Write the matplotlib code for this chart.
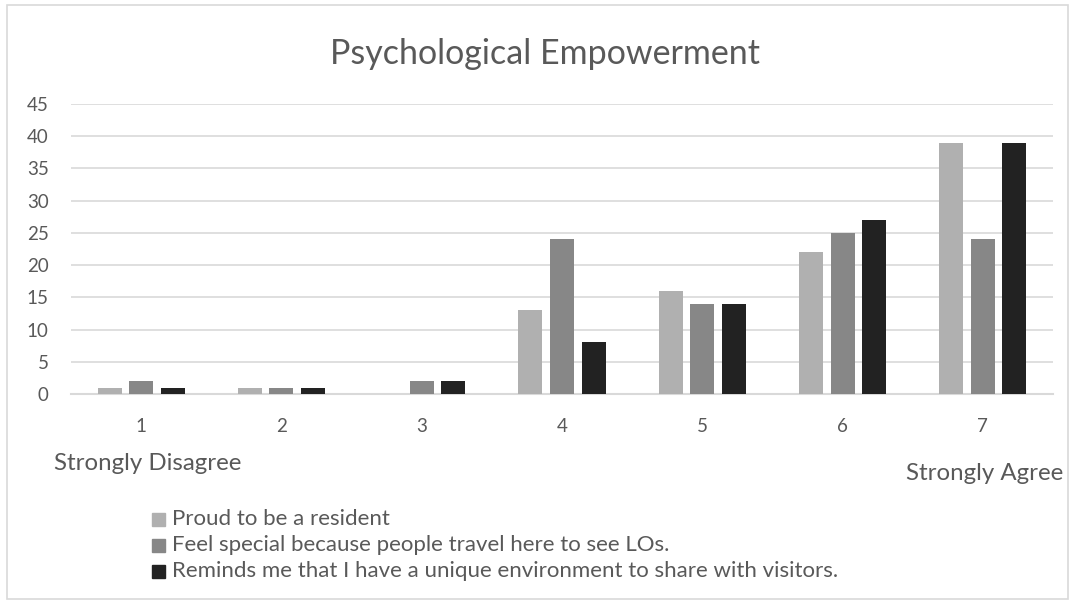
import numpy as np
import matplotlib
matplotlib.use("Agg")
import matplotlib.pyplot as plt
from matplotlib.patches import Rectangle

categories = ["1", "2", "3", "4", "5", "6", "7"]
series_names = [
    "Proud to be a resident",
    "Feel special because people travel here to see LOs.",
    "Reminds me that I have a unique environment to share with visitors.",
]
proud = [1, 1, 0, 13, 16, 22, 39]
special = [2, 1, 2, 24, 14, 25, 24]
reminds = [1, 1, 2, 8, 14, 27, 39]
y_ticks = [0, 5, 10, 15, 20, 25, 30, 35, 40, 45]

colors = ["#b0b0b0", "#878787", "#222222"]
text_color = "#595959"
grid_color = "#d9d9d9"

plt.rcParams["font.family"] = ["Lato", "DejaVu Sans"]

W, H = 1072, 605
fig = plt.figure(figsize=(W / 100, H / 100), dpi=100)
ax = fig.add_axes([71 / W, 1 - 394 / H, (1053 - 71) / W, (394 - 104) / H])

x = np.arange(len(categories))
bw = 0.171
off = 0.225
for i, vals in enumerate([proud, special, reminds]):
    ax.bar(x + (i - 1) * off, vals, width=bw, color=colors[i], label=series_names[i], zorder=3)

ax.set_xlim(-0.5, len(categories) - 0.5)
ax.set_ylim(0, 45)
ax.set_yticks(y_ticks)
ax.set_xticks(x)
ax.set_xticklabels(categories)
ax.tick_params(length=0, labelsize=13.5, labelcolor=text_color)
ax.tick_params(axis="x", pad=17)
ax.tick_params(axis="y", pad=16)
ax.grid(axis="y", color=grid_color, linewidth=1.2, zorder=0)
for s in ["top", "right", "left"]:
    ax.spines[s].set_visible(False)
ax.spines["bottom"].set_color(grid_color)
ax.spines["bottom"].set_linewidth(1.5)

fig.text(545 / W, 1 - 54 / H, "Psychological Empowerment", ha="center", va="center",
         fontsize=24.5, color=text_color)
fig.text(54 / W, 1 - 464 / H, "Strongly Disagree", ha="left", va="center",
         fontsize=17.3, color=text_color)
fig.text(1063 / W, 1 - 474 / H, "Strongly Agree", ha="right", va="center",
         fontsize=17.3, color=text_color)

# legend drawn as squares + text
for i, name in enumerate(series_names):
    yc = 520 + i * 26
    fig.patches.append(Rectangle((152 / W, 1 - (yc + 6) / H), 13 / W, 13 / H,
                                 transform=fig.transFigure, color=colors[i]))
    fig.text(172 / W, 1 - (yc - 1) / H, name, ha="left", va="center", fontsize=16,
             color=text_color)

fig.patches.append(Rectangle((7 / W, 6 / H), 1061 / W, 594 / H, transform=fig.transFigure,
                             fill=False, edgecolor="#d9d9d9", linewidth=1.2))

fig.savefig("out.png", dpi=100)
